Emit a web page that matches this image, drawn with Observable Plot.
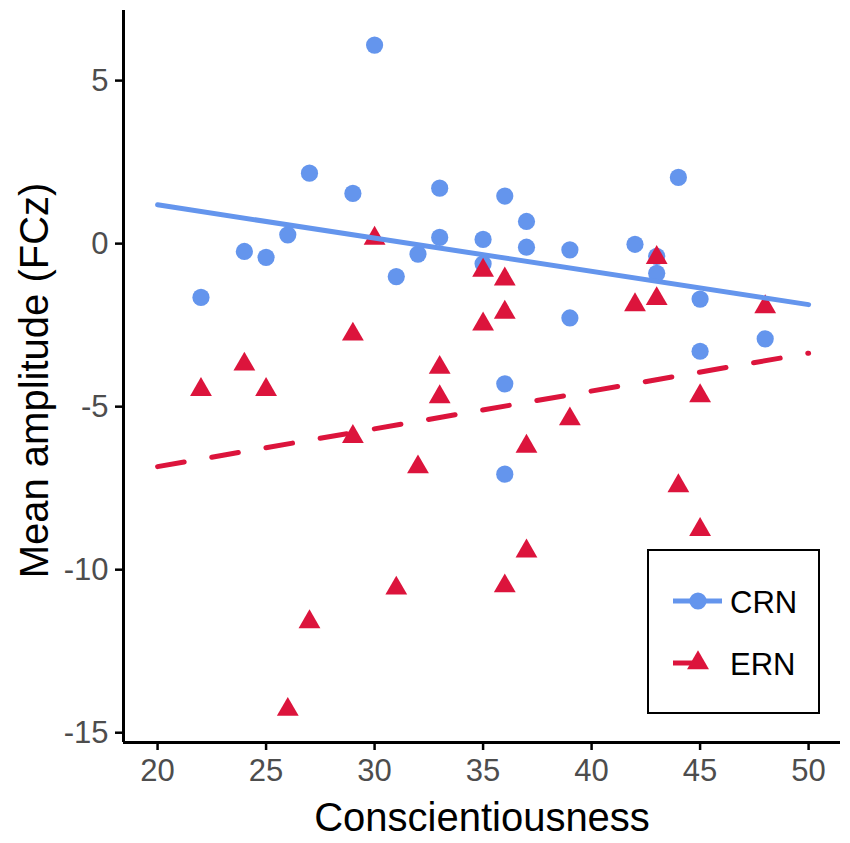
<!DOCTYPE html>
<html>
<head>
<meta charset="utf-8">
<script src="https://cdn.jsdelivr.net/npm/d3@7"></script>
<script src="https://cdn.jsdelivr.net/npm/@observablehq/plot@0.6"></script>
<style>
  html, body { margin: 0; padding: 0; background: #fff; }
  #wrap { position: relative; width: 850px; height: 843px; font-family: "Liberation Sans", Arial, sans-serif; }
  #legend { position: absolute; left: 647px; top: 549px; width: 173px; height: 165px; box-sizing: border-box; border: 2.5px solid #000; background: #fff; }
</style>
</head>
<body>
<div id="wrap"></div>
<script>
// Data
const crnX = [30, 27, 29, 33, 26, 24, 25, 22, 31, 32, 33, 35, 35, 36, 37, 37, 39, 39, 42, 43, 43, 44, 45, 45, 48, 36, 36];
const crnY = [6.09, 2.16, 1.54, 1.70, 0.27, -0.24, -0.42, -1.65, -1.01, -0.32, 0.19, 0.13, -0.62, 1.46, 0.68, -0.11, -0.19, -2.28, -0.02, -0.39, -0.91, 2.03, -1.70, -3.30, -2.92, -4.30, -7.07];
const ernX = [30, 29, 24, 22, 25, 33, 33, 35, 36, 36, 35, 43, 42, 43, 48, 45, 39, 37, 44, 45, 37, 36, 29, 32, 31, 27, 26];
const ernY = [0.16, -2.78, -3.70, -4.48, -4.48, -3.80, -4.70, -0.82, -1.09, -2.11, -2.47, -0.43, -1.88, -1.69, -1.94, -4.67, -5.38, -6.22, -7.43, -8.77, -9.43, -10.5, -5.92, -6.85, -10.57, -11.6, -14.29];
const fitX = [20, 50];
const crnFit = [1.19, -1.87];
const ernFit = [-6.84, -3.36];
const xTicks = [20, 25, 30, 35, 40, 45, 50];
const yTicks = [5, 0, -5, -10, -15];
const xDomain = [18.43, 51.47];
const yDomain = [-15.3, 7.15];
const seriesNames = ["CRN", "ERN"];
const colors = ["#6495ED", "#DC143C"];

const crn = crnX.map((x, i) => ({x, y: crnY[i]}));
const ern = ernX.map((x, i) => ({x, y: ernY[i]}));
const crnLine = fitX.map((x, i) => ({x, y: crnFit[i]}));
const ernLine = fitX.map((x, i) => ({x, y: ernFit[i]}));
const fmt = d => String(d);

const chart = Plot.plot({
  width: 850,
  height: 843,
  marginLeft: 123,
  marginRight: 10,
  marginTop: 10,
  marginBottom: 101,
  x: {domain: xDomain},
  y: {domain: yDomain},
  style: {fontFamily: "'Liberation Sans', Arial, sans-serif", background: "#fff", overflow: "visible"},
  marks: [
    Plot.dot(crn, {x: "x", y: "y", r: 8.6, fill: colors[0], stroke: "none"}),
    Plot.dot(ern, {x: "x", y: "y", r: 8.1, symbol: "triangle", fill: colors[1], stroke: "none"}),
    Plot.line(crnLine, {x: "x", y: "y", stroke: colors[0], strokeWidth: 5}),
    Plot.line(ernLine, {x: "x", y: "y", stroke: colors[1], strokeWidth: 5, strokeDasharray: "27,28"}),
    Plot.ruleX([xDomain[0]], {stroke: "#000", strokeWidth: 3}),
    Plot.ruleY([yDomain[0]], {stroke: "#000", strokeWidth: 3}),
    Plot.axisX({ticks: xTicks, tickFormat: fmt, tickSize: 8, tickPadding: 8, fontSize: 31, stroke: "#000", strokeWidth: 2.5, fill: "#4d4d4d", label: null}),
    Plot.axisY({ticks: yTicks, tickFormat: fmt, tickSize: 8, tickPadding: 7, fontSize: 31, stroke: "#000", strokeWidth: 2.5, fill: "#4d4d4d", label: null}),
    Plot.text(["Conscientiousness"], {frameAnchor: "bottom", lineAnchor: "bottom", dy: 88, fontSize: 40, fill: "#000"}),
    Plot.text(["Mean amplitude (FCz)"], {frameAnchor: "left", textAnchor: "middle", lineAnchor: "bottom", rotate: -90, dx: -76, dy: 4, fontSize: 40, fill: "#000"})
  ]
});
document.getElementById("wrap").appendChild(chart);

// Legend
const legend = document.createElement("div");
legend.id = "legend";
document.getElementById("wrap").appendChild(legend);
const ls = d3.select(legend).append("svg").attr("width", 170).attr("height", 160)
  .style("position", "absolute").style("left", "-2.5px").style("top", "-2.5px")
  .style("font-family", "'Liberation Sans', Arial, sans-serif");
const rows = [52, 114];
// CRN
ls.append("line").attr("x1", 26).attr("x2", 75).attr("y1", rows[0]).attr("y2", rows[0]).attr("stroke", colors[0]).attr("stroke-width", 5);
ls.append("circle").attr("cx", 51).attr("cy", rows[0]).attr("r", 8.6).attr("fill", colors[0]);
ls.append("text").attr("x", 83).attr("y", rows[0] + 12).attr("font-size", 31).text(seriesNames[0]);
// ERN
ls.append("line").attr("x1", 26).attr("x2", 75).attr("y1", rows[1]).attr("y2", rows[1]).attr("stroke", colors[1]).attr("stroke-width", 5).attr("stroke-dasharray", "27,28");
ls.append("path").attr("d", d3.symbol(d3.symbolTriangle, 208)()).attr("transform", `translate(51,${rows[1]})`).attr("fill", colors[1]);
ls.append("text").attr("x", 83).attr("y", rows[1] + 12).attr("font-size", 31).text(seriesNames[1]);
</script>
</body>
</html>
